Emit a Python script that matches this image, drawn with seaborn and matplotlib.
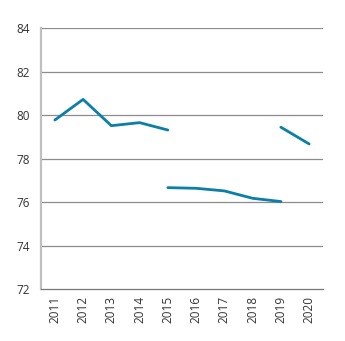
import matplotlib
matplotlib.use("Agg")
import matplotlib.pyplot as plt
import seaborn as sns
import pandas as pd
import numpy as np

years_a = [2011, 2012, 2013, 2014, 2015]
values_a = [79.78, 80.73, 79.52, 79.66, 79.32]
years_b = [2015, 2016, 2017, 2018, 2019]
values_b = [76.67, 76.64, 76.52, 76.18, 76.03]
years_c = [2019, 2020]
values_c = [79.45, 78.68]
tick_years = list(range(2011, 2021))
y_ticks = [72, 74, 76, 78, 80, 82, 84]

sns.set_style("white")
plt.rcParams['font.family'] = ['Open Sans', 'DejaVu Sans']

fig = plt.figure(figsize=(3.45, 3.41), dpi=100)
ax = fig.add_axes([0.118, 0.152, 0.819, 0.765])

color = "#0b7fa5"
for yrs, vals in [(years_a, values_a), (years_b, values_b), (years_c, values_c)]:
    df = pd.DataFrame({"year": yrs, "value": vals})
    sns.lineplot(data=df, x="year", y="value", ax=ax, color=color, linewidth=2.0)

ax.set_xlim(2010.5, 2020.5)
ax.set_ylim(72, 84)
ax.set_yticks(y_ticks)
ax.set_yticklabels([str(v) for v in y_ticks])
ax.set_xticks(tick_years)
ax.set_xticklabels([str(y) for y in tick_years], rotation=90)
ax.set_xticks(np.arange(2010.5, 2021.0, 1.0), minor=True)
ax.tick_params(axis="x", which="major", length=0, pad=5, labelsize=8.5, colors="#333333")
ax.tick_params(axis="x", which="minor", length=3, width=0.8, color="#777777", direction="out")
ax.tick_params(axis="y", length=0, pad=8, labelsize=8.5, colors="#333333")
ax.set_xlabel("")
ax.set_ylabel("")

for v in y_ticks[1:]:
    ax.axhline(v, color="#8c8c8c", linewidth=0.9, zorder=0)

for s in ["top", "right"]:
    ax.spines[s].set_visible(False)
ax.spines["bottom"].set_color("#777777")
ax.spines["bottom"].set_linewidth(0.9)
ax.spines["left"].set_color("#c0c0c0")
ax.spines["left"].set_linewidth(1.6)

fig.savefig("out.png", dpi=100)
